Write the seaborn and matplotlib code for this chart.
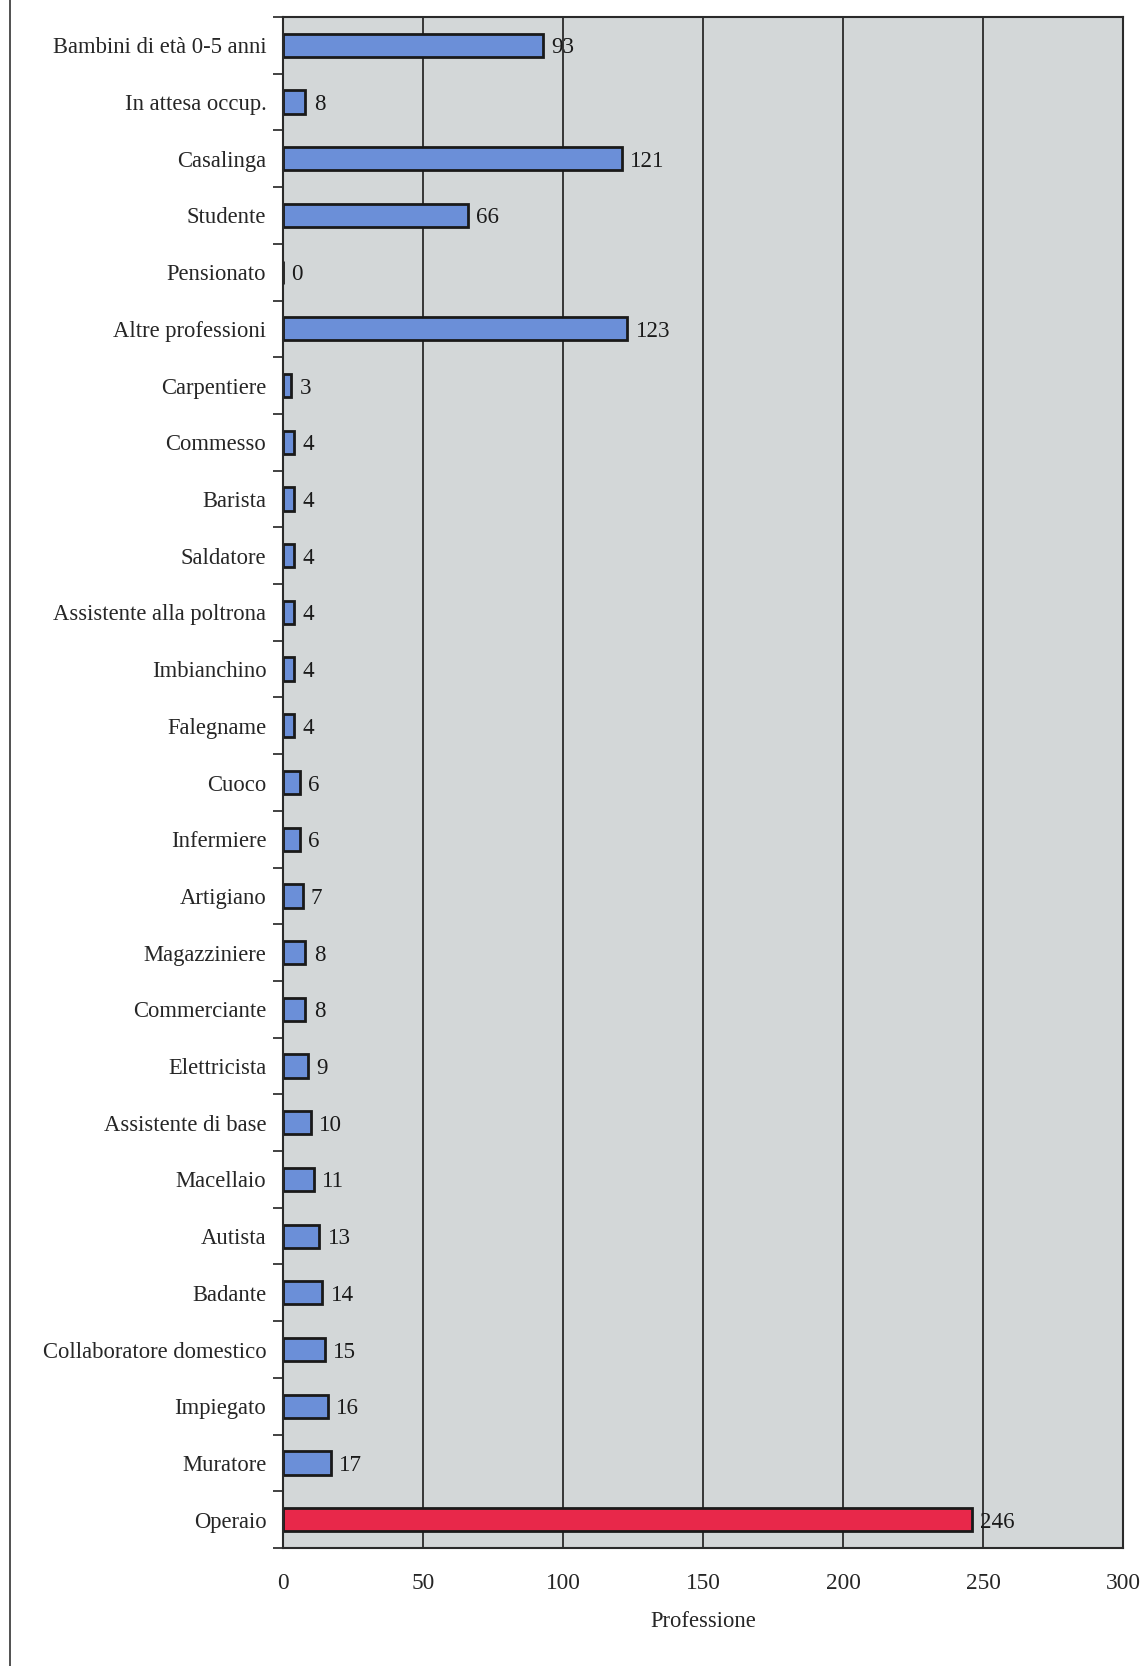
import matplotlib
matplotlib.use("Agg")
import matplotlib.pyplot as plt
import seaborn as sns
import pandas as pd
from matplotlib.lines import Line2D

categories = [
    "Bambini di età 0-5 anni", "In attesa occup.", "Casalinga", "Studente",
    "Pensionato", "Altre professioni", "Carpentiere", "Commesso", "Barista",
    "Saldatore", "Assistente alla poltrona", "Imbianchino", "Falegname",
    "Cuoco", "Infermiere", "Artigiano", "Magazziniere", "Commerciante",
    "Elettricista", "Assistente di base", "Macellaio", "Autista", "Badante",
    "Collaboratore domestico", "Impiegato", "Muratore", "Operaio",
]
values = [93, 8, 121, 66, 0, 123, 3, 4, 4, 4, 4, 4, 4, 6, 6, 7, 8, 8, 9, 10,
          11, 13, 14, 15, 16, 17, 246]
x_ticks = [0, 50, 100, 150, 200, 250, 300]
x_label = "Professione"

BLUE = "#6B8FD8"
RED = "#E8284A"
BG = "#D3D7D8"
FS = 16.3

sns.set_theme(style="white")
plt.rcParams['font.family'] = ['Liberation Serif', 'DejaVu Serif']

df = pd.DataFrame({"cat": categories, "val": values})
colors = [RED if c == "Operaio" else BLUE for c in categories]

fig = plt.figure(figsize=(11.44, 16.66), dpi=100)
ax = fig.add_axes([283/1144, 1 - 1548/1666, (1123-283)/1144, (1548-17)/1666])
ax.set_facecolor(BG)

sns.barplot(data=df, x="val", y="cat", hue="cat", palette=colors, legend=False,
            orient="h", width=0.41, saturation=1, edgecolor="#1a1a1a",
            linewidth=2.0, ax=ax, zorder=3)

ax.set_xlim(0, 300)
ax.set_ylim(len(categories) - 0.5, -0.5)
ax.set_xticks(x_ticks)
ax.set_xticklabels([str(t) for t in x_ticks], fontsize=FS + 0.5)
ax.tick_params(axis='x', length=7, width=1.2, color="#222222", pad=11, direction='out')
for t in x_ticks[1:-1]:
    ax.axvline(t, color="#2a2a2a", linewidth=1.3, zorder=1)

ax.set_yticks(range(len(categories)))
ax.set_yticklabels(categories, fontsize=FS)
ax.tick_params(axis='y', length=0, pad=12)
ax.set_yticks([i - 0.5 for i in range(len(categories) + 1)], minor=True)
ax.tick_params(axis='y', which='minor', length=7, width=1.2, color="#222222", left=True)

for sp in ax.spines.values():
    sp.set_color("#2a2a2a")
    sp.set_linewidth(1.5)
    sp.set_zorder(4)

ax.set_ylabel("")
ax.set_xlabel(x_label, fontsize=FS, labelpad=12)

for i, v in enumerate(values):
    ax.annotate(str(v), xy=(v, i), xytext=(6, 0), textcoords="offset points",
                ha="left", va="center_baseline", fontsize=FS + 0.3, color="#1a1a1a", zorder=5)

fig.add_artist(Line2D([10/1144, 10/1144], [0, 1], transform=fig.transFigure,
                      color="#333333", linewidth=1.2))

fig.savefig("out.png", dpi=100, facecolor="white")
